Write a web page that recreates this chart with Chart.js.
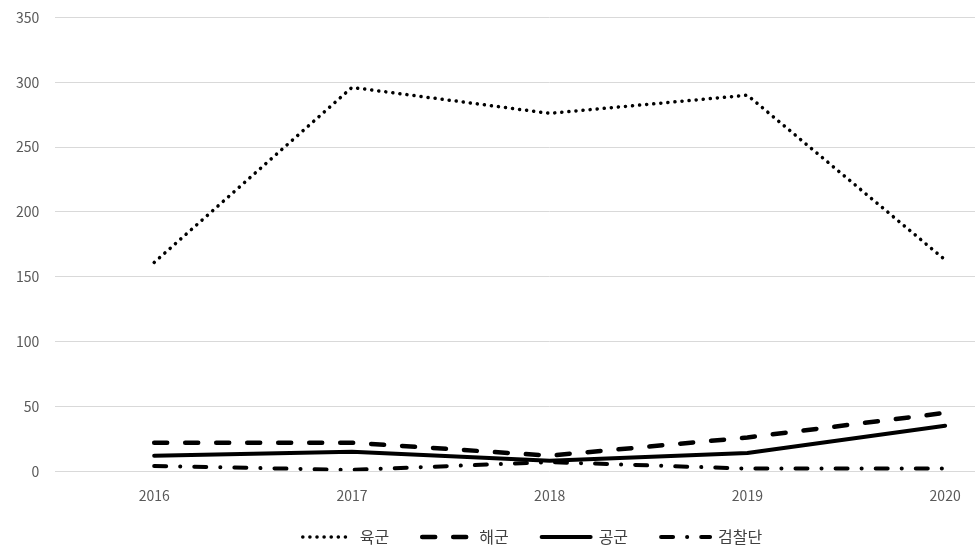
<!DOCTYPE html>
<html lang="ko">
<head>
    <meta charset="UTF-8">
    <title>연도별 현황</title>
    <script src="https://cdn.jsdelivr.net/npm/chart.js"></script>
    <style>
        html, body { margin: 0; padding: 0; background: #fff; overflow: hidden; }
        #wrap { width: 1050px; height: 555px; margin-top: -7px; }
    </style>
</head>
<body>
    <div id="wrap"><canvas id="chart" width="1050" height="555"></canvas></div>
    <script>
        const years = ['2016', '2017', '2018', '2019', '2020'];
        const army = [161, 296, 276, 290, 163];      // 육군
        const navy = [22, 22, 12, 26, 45];           // 해군
        const airForce = [12, 15, 8, 14, 35];        // 공군
        const prosecution = [4, 1, 7, 2, 2];         // 검찰단
        const yTicks = [0, 50, 100, 150, 200, 250, 300, 350];

        const fontFamily = '"Noto Sans CJK KR", "Noto Sans", sans-serif';

        function lineSet(label, data, dash, width) {
            return {
                label: label,
                data: data,
                borderColor: '#000',
                backgroundColor: '#000',
                borderWidth: width,
                borderDash: dash,
                borderCapStyle: 'round',
                borderJoinStyle: 'round',
                pointRadius: 0,
                tension: 0,
                fill: false
            };
        }

        // the default legend drops the dash patterns, so draw it by hand
        const dashLegend = {
            id: 'dashLegend',
            afterDraw(chart) {
                const ctx = chart.ctx;
                const sample = 55, gapText = 5, gapItem = 30;
                ctx.save();
                ctx.font = '16px ' + fontFamily;
                const items = chart.data.datasets.map(ds => ({ ds, w: ctx.measureText(ds.label).width }));
                const total = items.reduce((s, it) => s + sample + gapText + it.w, 0) + gapItem * (items.length - 1);
                let x = 531 - total / 2;
                const y = 544;
                items.forEach(it => {
                    ctx.strokeStyle = '#000';
                    ctx.lineWidth = it.ds.borderWidth;
                    ctx.lineCap = 'round';
                    ctx.setLineDash(it.ds.borderDash);
                    ctx.beginPath();
                    ctx.moveTo(x + 3, y);
                    ctx.lineTo(x + sample - 3, y);
                    ctx.stroke();
                    ctx.setLineDash([]);
                    ctx.fillStyle = '#404040';
                    ctx.textBaseline = 'middle';
                    ctx.fillText(it.ds.label, x + sample + gapText, y);
                    x += sample + gapText + it.w + gapItem;
                });
                ctx.restore();
            }
        };

        new Chart(document.getElementById('chart'), {
            type: 'line',
            data: {
                labels: years,
                datasets: [
                    lineSet('육군', army, [0.1, 7], 3.5),
                    lineSet('해군', navy, [13, 18], 4.5),
                    lineSet('공군', airForce, [], 4),
                    lineSet('검찰단', prosecution, [12, 14, 0.1, 14], 4)
                ]
            },
            options: {
                responsive: false,
                animation: false,
                layout: { padding: { top: 0, right: 6, left: 0, bottom: 36 } },
                scales: {
                    x: {
                        offset: true,
                        grid: { display: false },
                        border: { display: false },
                        ticks: { color: '#595959', font: { family: fontFamily, size: 14 }, padding: 8 }
                    },
                    y: {
                        min: 0,
                        max: 350,
                        afterBuildTicks: axis => { axis.ticks = yTicks.map(v => ({ value: v })); },
                        grid: { color: '#d9d9d9', lineWidth: 1, drawTicks: false },
                        border: { display: false },
                        ticks: { color: '#595959', font: { family: fontFamily, size: 14 }, padding: 16 }
                    }
                },
                plugins: {
                    legend: { display: false },
                    tooltip: { enabled: false }
                }
            },
            plugins: [dashLegend]
        });
    </script>
</body>
</html>
